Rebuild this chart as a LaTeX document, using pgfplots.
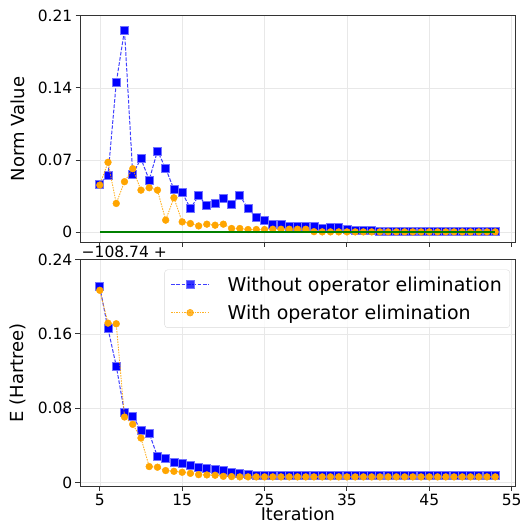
\documentclass[border=0pt]{standalone}
\usepackage{fontspec}
\setmainfont{DejaVu Sans}
\usepackage{pgfplots}
\pgfplotsset{compat=1.18}

\definecolor{mplblue}{RGB}{0,0,255}
\definecolor{mplorange}{HTML}{FFA500}
\definecolor{mplgreen}{HTML}{008000}

\pgfplotsset{
  panel/.style={
    scale only axis, width=435pt, height=226.6pt,
    xmin=2.6, xmax=55.4,
    xtick={5,15,...,55},
    grid=major, grid style={gray!18, line width=0.5pt},
    axis line style={black!80, line width=0.9pt},
    tick align=outside, tick pos=left, major tick length=4.5pt,
    tick style={black!80, line width=0.9pt},
    ticklabel style={font=\fontsize{15.5}{18}\selectfont},
    xticklabel style={inner sep=1pt, yshift=-2.5pt},
    yticklabel style={inner sep=1pt, xshift=-2pt},
    label style={font=\fontsize{18}{22}\selectfont, inner sep=0pt},
    /pgf/number format/assume math mode=true,
    scaled y ticks=false,
    yticklabel style={/pgf/number format/fixed, /pgf/number format/precision=2},
    ylabel style={at={(axis description cs:-0.1437,0.5)}, anchor=center},
    clip mode=individual,
  },
  noelim/.style={
    mplblue, draw opacity=0.75, line width=1pt, dash pattern=on 3.7pt off 1.6pt,
    mark=square*, mark size=4pt,
    mark options={solid, draw opacity=1, fill=mplblue, draw=mplblue!55, line width=0.8pt},
  },
  elim/.style={
    mplorange, draw opacity=0.85, line width=0.9pt, dash pattern=on 1.5pt off 1.1pt,
    mark=*, mark size=3.4pt,
    mark options={solid, draw opacity=1, fill=mplorange, draw=mplorange, line width=0.4pt},
  },
}

\begin{document}
\begin{tikzpicture}
\useasboundingbox (0pt,0pt) rectangle (525pt,523pt);

% Upper panel: norm of the gradient per iteration
\begin{axis}[panel, at={(80pt,280.7pt)}, anchor=south west,
  ymin=-0.0098, ymax=0.21, ytick={0,0.07,0.14,0.21},
  xticklabels={},
  ylabel={Norm Value}]
\addplot[noelim] coordinates {
 (5,0.0467)(6,0.0554)(7,0.145)(8,0.196)(9,0.0564)(10,0.0713)(11,0.0506)(12,0.0788)
 (13,0.0619)(14,0.0415)(15,0.0386)(16,0.023)(17,0.0353)(18,0.0256)(19,0.0279)(20,0.0328)
 (21,0.0269)(22,0.0353)(23,0.023)(24,0.0139)(25,0.011)(26,0.0075)(27,0.0075)(28,0.0054)
 (29,0.0054)(30,0.0058)(31,0.0058)(32,0.004)(33,0.0045)(34,0.0045)(35,0.003)(36,0.0018)
 (37,0.0016)(38,0.0014)(39,0.0012)(40,0.0011)(41,0.001)(42,0.0009)(43,0.0008)(44,0.0007)
 (45,0.0006)(46,0.0006)(47,0.0005)(48,0.0005)(49,0.0004)(50,0.0004)(51,0.0004)(52,0.0003)(53,0.0003)
};
\addplot[elim] coordinates {
 (5,0.0457)(6,0.0678)(7,0.0279)(8,0.049)(9,0.0616)(10,0.0408)(11,0.0431)(12,0.0408)
 (13,0.0117)(14,0.0334)(15,0.010)(16,0.0084)(17,0.0061)(18,0.0078)(19,0.0068)(20,0.0078)
 (21,0.0036)(22,0.0036)(23,0.0026)(24,0.0026)(25,0.0026)(26,0.0029)(27,0.0029)(28,0.0029)
 (29,0.0029)(30,0.0029)(31,0.0005)(32,0.0003)(33,0.0003)(34,0.0003)(35,0.0003)(36,0.0003)
 (37,0.0003)(38,0.0003)(39,0.0003)(40,0.0003)(41,0.0003)(42,0.0003)(43,0.0003)(44,0.0003)
 (45,0.0003)(46,0.0003)(47,0.0003)(48,0.0003)(49,0.0003)(50,0.0003)(51,0.0003)(52,0.0003)(53,0.0003)
};
\addplot[mplgreen, line width=1.4pt, no marks] coordinates {(5,0) (53,0)};
\end{axis}

% Lower panel: energy relative to -108.74 Hartree
\begin{axis}[panel, at={(80pt,37pt)}, anchor=south west,
  ymin=-0.0036, ymax=0.24, ytick={0,0.08,0.16,0.24},
  xlabel={Iteration}, ylabel={E (Hartree)},
  xlabel style={at={(axis description cs:0.501,-0.1505)}, anchor=base,
    font=\fontsize{17.5}{21}\selectfont},
  legend style={at={(rel axis cs:0.9885,0.955)}, anchor=north east,
    draw=gray!30, rounded corners=3pt, fill=white, fill opacity=0.8, text opacity=1,
    font=\fontsize{19}{22}\selectfont, row sep=8pt, column sep=16pt,
    inner xsep=6pt, inner ysep=5pt,
    cells={anchor=west}},
  legend image code/.code={\draw[mark repeat=2, mark phase=2, #1]
    plot coordinates {(0pt,0pt) (19pt,0pt) (38pt,0pt)};}]
\addplot[noelim] coordinates {
 (5,0.2105)(6,0.1654)(7,0.1254)(8,0.0755)(9,0.0717)(10,0.0562)(11,0.0533)(12,0.0281)
 (13,0.0256)(14,0.022)(15,0.0202)(16,0.0184)(17,0.0166)(18,0.0148)(19,0.014)(20,0.013)
 (21,0.0112)(22,0.010)(23,0.009)(24,0.0083)(25,0.0078)(26,0.0075)(27,0.0075)(28,0.0075)
 (29,0.0075)(30,0.0075)(31,0.0075)(32,0.0075)(33,0.0075)(34,0.0075)(35,0.0075)(36,0.0075)
 (37,0.0075)(38,0.0075)(39,0.0075)(40,0.0075)(41,0.0075)(42,0.0075)(43,0.0075)(44,0.0075)
 (45,0.0075)(46,0.0075)(47,0.0075)(48,0.0075)(49,0.0075)(50,0.0075)(51,0.0075)(52,0.0075)(53,0.0075)
};
\addlegendentry{Without operator elimination}
\addplot[elim] coordinates {
 (5,0.2068)(6,0.1715)(7,0.1708)(8,0.0706)(9,0.0627)(10,0.048)(11,0.0173)(12,0.0166)
 (13,0.013)(14,0.0122)(15,0.0112)(16,0.010)(17,0.0086)(18,0.0083)(19,0.008)(20,0.0068)
 (21,0.0065)(22,0.0062)(23,0.0062)(24,0.0062)(25,0.0062)(26,0.0062)(27,0.0062)(28,0.0062)
 (29,0.0062)(30,0.0062)(31,0.0062)(32,0.0062)(33,0.0062)(34,0.0062)(35,0.0062)(36,0.0062)
 (37,0.0062)(38,0.0062)(39,0.0062)(40,0.0062)(41,0.0062)(42,0.0062)(43,0.0062)(44,0.0062)
 (45,0.0062)(46,0.0062)(47,0.0062)(48,0.0062)(49,0.0062)(50,0.0062)(51,0.0062)(52,0.0062)(53,0.0062)
};
\addlegendentry{With operator elimination}
\node[anchor=south west, inner sep=0pt, font=\fontsize{15.5}{18}\selectfont,
  xshift=1.5pt, yshift=1.5pt] at (rel axis cs:0,1) {−108.74 +};
\end{axis}
\end{tikzpicture}
\end{document}
